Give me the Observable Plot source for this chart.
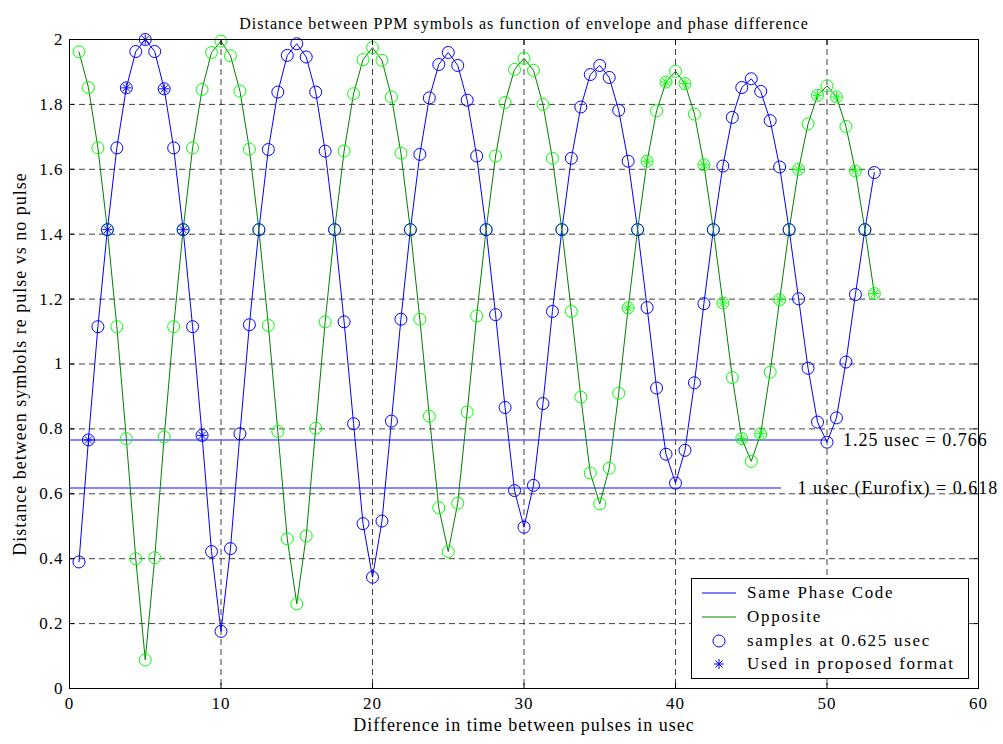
<!DOCTYPE html>
<html><head><meta charset="utf-8">
<script src="https://cdn.jsdelivr.net/npm/d3@7"></script>
<script src="https://cdn.jsdelivr.net/npm/@observablehq/plot@0.6"></script>
<style>
body{margin:0;background:#fff;font-family:"Liberation Serif",serif}
#wrap{position:relative;width:1003px;height:744px;overflow:hidden}
svg text{letter-spacing:1px}
svg text[aria-label="axis-title"], svg g[aria-label="axis-title"] text{letter-spacing:1.3px}
svg text[aria-label="ref-label"], svg g[aria-label="ref-label"] text{letter-spacing:1.8px}
#legend{position:absolute;left:691px;top:578px;width:276px;height:99px;border:1px solid #000;background:#fff;font-size:17px;letter-spacing:1.7px}
#legend .row{position:absolute;left:0;height:22px;display:flex;align-items:center;white-space:nowrap}
#legend svg{width:52px;height:22px;margin-right:3px;flex:none}
</style>
</head><body><div id="wrap"><div id="chart"></div>
<div id="legend"></div></div>
<script>
// sample times (usec)
const times = [0.625,1.25,1.875,2.5,3.125,3.75,4.375,5,5.625,6.25,6.875,7.5,8.125,8.75,9.375,10,
10.625,11.25,11.875,12.5,13.125,13.75,14.375,15,15.625,16.25,16.875,17.5,18.125,18.75,19.375,20,
20.625,21.25,21.875,22.5,23.125,23.75,24.375,25,25.625,26.25,26.875,27.5,28.125,28.75,29.375,30,
30.625,31.25,31.875,32.5,33.125,33.75,34.375,35,35.625,36.25,36.875,37.5,38.125,38.75,39.375,40,
40.625,41.25,41.875,42.5,43.125,43.75,44.375,45,45.625,46.25,46.875,47.5,48.125,48.75,49.375,50,
50.625,51.25,51.875,52.5,53.125];
// Same phase code distance
const samePhase = [0.39,0.766,1.115,1.414,1.666,1.851,1.963,2.0,1.963,1.848,1.666,1.414,1.115,0.78,0.422,0.176,
0.431,0.785,1.121,1.414,1.661,1.838,1.951,1.987,1.946,1.838,1.656,1.414,1.13,0.816,0.508,0.343,
0.516,0.824,1.138,1.414,1.646,1.82,1.923,1.96,1.92,1.813,1.641,1.414,1.152,0.866,0.61,0.497,
0.626,0.878,1.162,1.414,1.634,1.792,1.892,1.92,1.883,1.782,1.625,1.414,1.174,0.926,0.722,0.633,
0.734,0.942,1.186,1.414,1.61,1.76,1.852,1.879,1.84,1.75,1.607,1.414,1.201,0.987,0.821,0.759,
0.834,1.006,1.214,1.414,1.59];
// Opposite phase code distance
const opposite = [1.962,1.852,1.666,1.414,1.115,0.77,0.40,0.088,0.403,0.775,1.115,1.414,1.666,1.846,1.96,1.995,
1.95,1.841,1.662,1.414,1.119,0.792,0.461,0.261,0.47,0.802,1.13,1.414,1.656,1.833,1.938,1.975,
1.936,1.823,1.65,1.414,1.138,0.839,0.557,0.422,0.571,0.852,1.148,1.414,1.641,1.806,1.908,1.942,
1.905,1.80,1.634,1.414,1.162,0.898,0.664,0.569,0.679,0.91,1.173,1.414,1.625,1.78,1.869,1.902,
1.864,1.77,1.614,1.414,1.188,0.958,0.77,0.70,0.785,0.975,1.198,1.414,1.60,1.74,1.828,1.857,
1.823,1.732,1.595,1.414,1.217];
// samples used in proposed format
const sameStarTimes = [1.25,2.5,3.75,5,6.25,7.5,8.75];
const oppStarTimes = [36.875,38.125,39.375,40.625,41.875,43.125,44.375,45.625,46.875,48.125,49.375,50.625,51.875,53.125];
// reference levels
const refLevels = [0.766, 0.618];
const refEnds = [50, 47];
const refLabels = ["1.25 usec = 0.766", "1 usec (Eurofix) = 0.618"];
const xTicks = [0,10,20,30,40,50,60];
const yTicks = [0,0.2,0.4,0.6,0.8,1,1.2,1.4,1.6,1.8,2];
const titleText = "Distance between PPM symbols as function of envelope and phase difference";
const xLabel = "Difference in time between pulses in usec";
const yLabel = "Distance between symbols re pulse vs no pulse";
const legendLabels = ["Same Phase Code","Opposite","samples at 0.625 usec","Used in proposed format"];

const BLUE = "#0000ff", GREEN_LINE = "#008000", GREEN = "#00ff00", REF = "#5f5fff";

const rows = times.map((t,i)=>({t, same: samePhase[i], opp: opposite[i]}));
const byT = new Map(rows.map(r=>[r.t,r]));
const sameStars = sameStarTimes.map(t=>byT.get(t));
const oppStars = oppStarTimes.map(t=>byT.get(t));
const refs = refLevels.map((v,i)=>({v, end: refEnds[i], label: refLabels[i]}));

const star8 = {
  draw(ctx, size) {
    const r = Math.sqrt(size/Math.PI);
    const d = r*Math.SQRT1_2;
    ctx.moveTo(0,-r); ctx.lineTo(0,r);
    ctx.moveTo(-r,0); ctx.lineTo(r,0);
    ctx.moveTo(-d,-d); ctx.lineTo(d,d);
    ctx.moveTo(-d,d); ctx.lineTo(d,-d);
  }
};
const fmt = d => String(+(+d).toFixed(1));

const chart = Plot.plot({
  width: 1003, height: 744,
  marginLeft: 69, marginRight: 25, marginTop: 39, marginBottom: 56,
  style: {fontFamily: "Liberation Serif, serif", fontSize: "17px", background: "#fff", color: "#000", overflow: "visible"},
  x: {domain: [0,60]},
  y: {domain: [0,2]},
  marks: [
    Plot.gridX(xTicks.slice(1,-1), {stroke: "#000", strokeOpacity: 0.75, strokeDasharray: "6,4"}),
    Plot.gridY(yTicks.slice(1,-1), {stroke: "#000", strokeOpacity: 0.75, strokeDasharray: "6,4"}),
    Plot.ruleY(refs, {y: "v", x1: 0, x2: "end", stroke: REF, strokeWidth: 1.6}),
    Plot.text(refs, {y: "v", x: "end", text: "label", textAnchor: "start", dx: 16, fontSize: 18, ariaLabel: "ref-label"}),
    Plot.line(rows, {x: "t", y: "same", stroke: BLUE, strokeWidth: 1}),
    Plot.line(rows, {x: "t", y: "opp", stroke: GREEN_LINE, strokeWidth: 1}),
    Plot.dot(rows, {x: "t", y: "opp", r: 6, stroke: GREEN, strokeWidth: 1}),
    Plot.dot(rows, {x: "t", y: "same", r: 6, stroke: BLUE, strokeWidth: 1}),
    Plot.dot(sameStars, {x: "t", y: "same", r: 5, symbol: star8, stroke: BLUE, strokeWidth: 1}),
    Plot.dot(oppStars, {x: "t", y: "opp", r: 5, symbol: star8, stroke: GREEN, strokeWidth: 1}),
    Plot.frame({stroke: "#000"}),
    Plot.axisX(xTicks, {anchor: "bottom", tickSize: -5, tickPadding: 13, label: null, tickFormat: fmt}),
    Plot.axisX(xTicks, {anchor: "top", tickSize: -5, label: null, tickFormat: () => ""}),
    Plot.axisY(yTicks, {anchor: "left", tickSize: -5, tickPadding: 11, label: null, tickFormat: fmt}),
    Plot.axisY(yTicks, {anchor: "right", tickSize: -5, label: null, tickFormat: () => ""}),
    Plot.text([titleText], {frameAnchor: "top", dy: -22, fontSize: 16}),
    Plot.text([xLabel], {frameAnchor: "bottom", dy: 42, fontSize: 18, ariaLabel: "axis-title"}),
    Plot.text([yLabel], {frameAnchor: "left", textAnchor: "middle", dx: -49, rotate: -90, fontSize: 18, ariaLabel: "axis-title"})
  ]
});
document.getElementById("chart").appendChild(chart);

// legend
const lg = document.getElementById("legend");
const swatches = [
  `<line x1="10" x2="44" y1="11" y2="11" stroke="${BLUE}" stroke-width="1"/>`,
  `<line x1="10" x2="44" y1="11" y2="11" stroke="${GREEN_LINE}" stroke-width="1"/>`,
  `<circle cx="27" cy="11" r="6" fill="none" stroke="${BLUE}"/>`,
  `<path d="M27,6V16M22,11H32M23.5,7.5L30.5,14.5M23.5,14.5L30.5,7.5" stroke="${BLUE}" fill="none"/>`
];
const tops = [3, 27, 51, 74];
legendLabels.forEach((lab,i)=>{
  const d = document.createElement("div");
  d.className = "row";
  d.style.top = tops[i] + "px";
  d.innerHTML = `<svg>${swatches[i]}</svg><span>${lab}</span>`;
  lg.appendChild(d);
});
</script>
</body></html>
